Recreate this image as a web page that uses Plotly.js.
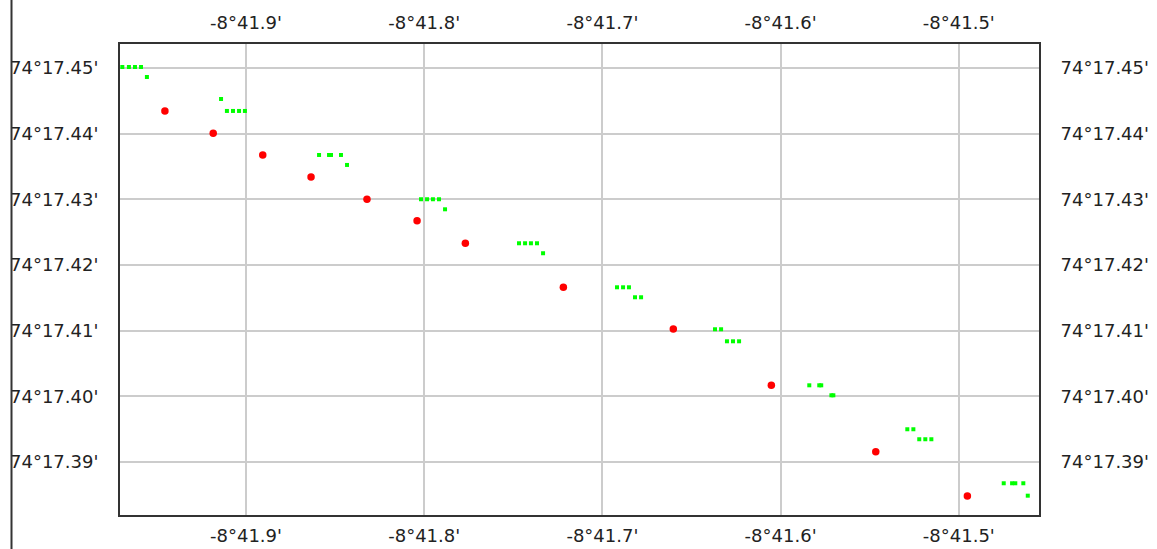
<!DOCTYPE html>
<html>
<head>
<meta charset="utf-8">
<script src="https://cdn.plot.ly/plotly-3.0.1.min.js"></script>
<style>html,body{margin:0;padding:0;background:#fff;}#chart{width:1157px;height:549px;}</style>
</head>
<body>
<div id="chart"></div>
<script>
// Longitude minutes (west of -8°), latitude minutes (north of 74°)
const redLon = [-41.9455, -41.9184, -41.8906, -41.8635, -41.8321, -41.8040, -41.7769, -41.7219, -41.6602, -41.6052, -41.5466, -41.4952];
const redLat = [17.44346, 17.44006, 17.43676, 17.43341, 17.43002, 17.42676, 17.42332, 17.41662, 17.41027, 17.40170, 17.39160, 17.38486];

const greenLon = [-41.9694, -41.9657, -41.9623, -41.9589, -41.9556,
  -41.9140, -41.9107, -41.9073, -41.9039, -41.9006,
  -41.8590, -41.8534, -41.8523, -41.8467, -41.8433,
  -41.8018, -41.7984, -41.7951, -41.7917, -41.7883,
  -41.7468, -41.7434, -41.7401, -41.7367, -41.7333,
  -41.6918, -41.6884, -41.6851, -41.6817, -41.6783,
  -41.6368, -41.6334, -41.6301, -41.6267, -41.6233,
  -41.5839, -41.5783, -41.5772, -41.5715, -41.5704,
  -41.5289, -41.5255, -41.5222, -41.5188, -41.5154,
  -41.4748, -41.4701, -41.4683, -41.4638, -41.4613];
const greenLat = [17.45015, 17.45015, 17.45015, 17.45015, 17.44863,
  17.44528, 17.44346, 17.44346, 17.44346, 17.44346,
  17.43676, 17.43676, 17.43676, 17.43676, 17.43524,
  17.43002, 17.43002, 17.43002, 17.43002, 17.42849,
  17.42332, 17.42332, 17.42332, 17.42332, 17.42180,
  17.41662, 17.41662, 17.41662, 17.41510, 17.41510,
  17.41023, 17.41023, 17.40840, 17.40840, 17.40840,
  17.40170, 17.40170, 17.40170, 17.40018, 17.40018,
  17.39501, 17.39501, 17.39349, 17.39349, 17.39349,
  17.38679, 17.38679, 17.38679, 17.38679, 17.38490];

const xTickVals = [-41.9, -41.8, -41.7, -41.6, -41.5];
const xTickText = ["-8°41.9'", "-8°41.8'", "-8°41.7'", "-8°41.6'", "-8°41.5'"];
const yTickVals = [17.45, 17.44, 17.43, 17.42, 17.41, 17.40, 17.39];
const yTickText = ["74°17.45'", "74°17.44'", "74°17.43'", "74°17.42'", "74°17.41'", "74°17.40'", "74°17.39'"];

const xRange = [-41.9707, -41.4550];
const yRange = [17.38196, 17.45365];

const tickFont = {family: 'DejaVu Sans', size: 18, color: '#222'};

const traces = [
  {x: greenLon, y: greenLat, mode: 'markers', type: 'scatter', xaxis: 'x', yaxis: 'y',
   marker: {symbol: 'square', size: 4, color: '#00ff00', line: {width: 0}}, hoverinfo: 'x+y'},
  {x: redLon, y: redLat, mode: 'markers', type: 'scatter', xaxis: 'x', yaxis: 'y',
   marker: {symbol: 'circle', size: 7.5, color: '#ff0000', line: {width: 0}}, hoverinfo: 'x+y'},
  {x: [xRange[0]], y: [yRange[0]], mode: 'markers', type: 'scatter', xaxis: 'x2', yaxis: 'y2',
   marker: {size: 1, opacity: 0}, hoverinfo: 'skip', showlegend: false}
];

const axBase = {
  tickfont: tickFont, showgrid: true, gridcolor: '#cccccc', gridwidth: 2,
  zeroline: false, tickmode: 'array', ticks: 'outside', tickcolor: 'rgba(0,0,0,0)',
  showline: true, linecolor: '#333', linewidth: 2, mirror: true, fixedrange: true
};

const layout = {
  width: 1157, height: 549,
  margin: {l: 120, r: 118, t: 44, b: 34, pad: 0},
  paper_bgcolor: '#fff', plot_bgcolor: '#fff',
  showlegend: false,
  xaxis: Object.assign({}, axBase, {range: xRange, tickvals: xTickVals, ticktext: xTickText, ticklen: 3, side: 'bottom'}),
  yaxis: Object.assign({}, axBase, {range: yRange, tickvals: yTickVals, ticktext: yTickText, ticklen: 16, side: 'left'}),
  xaxis2: Object.assign({}, axBase, {range: xRange, tickvals: xTickVals, ticktext: xTickText, ticklen: 6, side: 'top', overlaying: 'x', showgrid: false, anchor: 'y2'}),
  yaxis2: Object.assign({}, axBase, {range: yRange, tickvals: yTickVals, ticktext: yTickText, ticklen: 16, side: 'right', overlaying: 'y', showgrid: false, anchor: 'x2'}),
  shapes: [
    {type: 'rect', xref: 'paper', yref: 'paper', x0: -0.2, x1: (11 - 120) / 919, y0: -0.2, y1: 1.2,
     fillcolor: '#fff', line: {width: 0}, layer: 'above'},
    {type: 'line', xref: 'paper', yref: 'paper', x0: (11.5 - 120) / 919, x1: (11.5 - 120) / 919,
     y0: -34 / 471, y1: 1 + 44 / 471, line: {color: '#333', width: 2}, layer: 'above'}
  ]
};

Plotly.newPlot('chart', traces, layout, {displayModeBar: false, staticPlot: true});
</script>
</body>
</html>
